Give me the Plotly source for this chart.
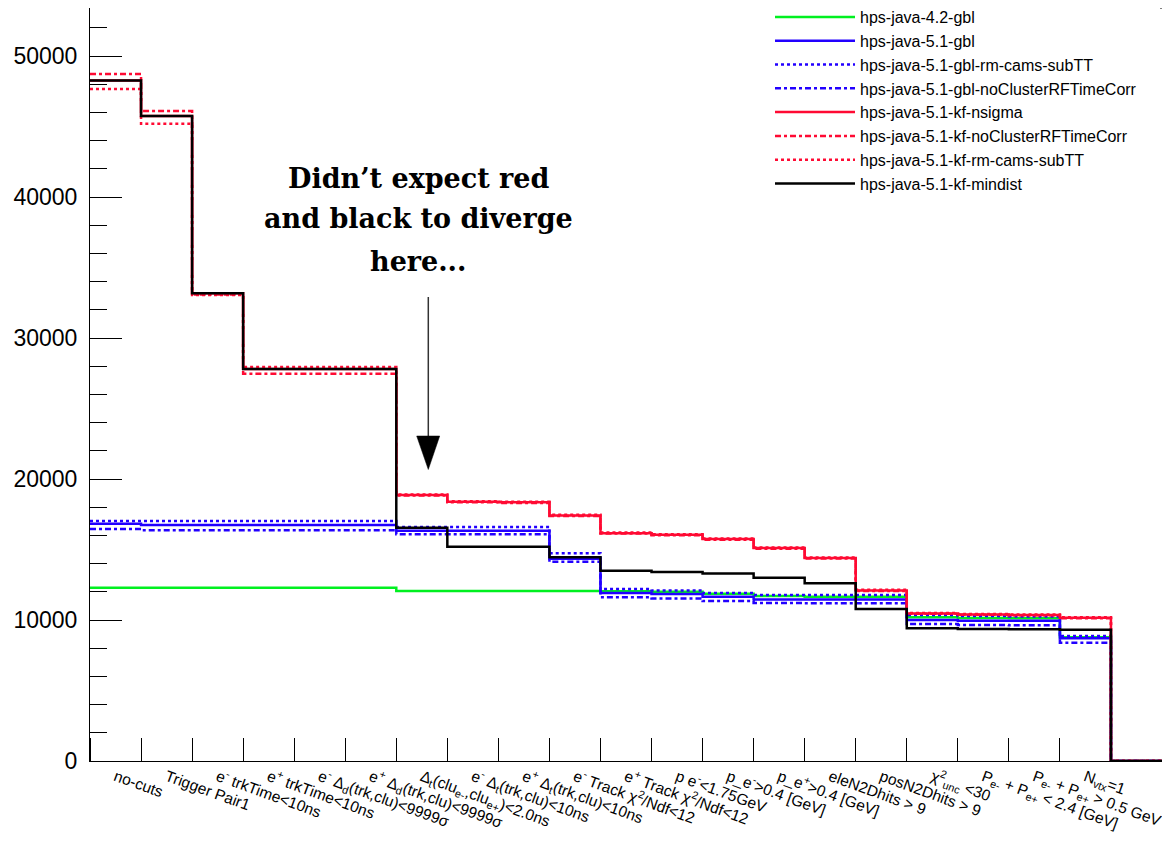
import plotly.graph_objects as go

# ---------------- data (bins 1..21) ----------------
bin_labels = [
    "no-cuts",
    "Trigger Pair1",
    "e<sup>-</sup> trkTime&lt;10ns",
    "e<sup>+</sup> trkTime&lt;10ns",
    "e<sup>-</sup> Δ<sub>d</sub>(trk,clu)&lt;9999σ",
    "e<sup>+</sup> Δ<sub>d</sub>(trk,clu)&lt;9999σ",
    "Δ<sub>t</sub>(clu<sub>e-</sub>,clu<sub>e+</sub>)&lt;2.0ns",
    "e<sup>-</sup> Δ<sub>t</sub>(trk,clu)&lt;10ns",
    "e<sup>+</sup> Δ<sub>t</sub>(trk,clu)&lt;10ns",
    "e<sup>-</sup> Track χ<sup>2</sup>/Ndf&lt;12",
    "e<sup>+</sup> Track χ<sup>2</sup>/Ndf&lt;12",
    "p e<sup>-</sup>&lt;1.75GeV",
    "p_e<sup>-</sup>&gt;0.4 [GeV]",
    "p_e<sup>+</sup>&gt;0.4 [GeV]",
    "eleN2Dhits &gt; 9",
    "posN2Dhits &gt; 9",
    "χ<sup>2</sup><sub>unc</sub> &lt;30",
    "P<sub>e-</sub> + P<sub>e+</sub> &lt; 2.4 [GeV]",
    "P<sub>e-</sub> + P<sub>e+</sub> &gt; 0.5 GeV",
    "N<sub>vtx</sub>=1",
    "",
]

java42_gbl = [12290, 12290, 12290, 12290, 12290, 12290, 12050, 12050, 12050, 12050,
              12040, 12000, 11865, 11700, 11650, 11650, 10190, 10150, 10120, 8780, 0]
java51_gbl = [16830, 16740, 16740, 16740, 16740, 16740, 16330, 16330, 16330, 14350,
              11920, 11845, 11650, 11450, 11460, 11460, 10000, 9950, 9950, 8700, 0]
java51_gbl_rmcams = [17020, 17020, 17020, 17020, 17020, 17020, 16600, 16600, 16600, 14730,
                     12200, 12100, 11915, 11770, 11770, 11770, 10355, 10280, 10250, 8865, 0]
java51_gbl_norf = [16450, 16360, 16360, 16360, 16360, 16360, 16075, 16075, 16075, 14135,
                   11620, 11520, 11350, 11200, 11185, 11185, 9715, 9645, 9620, 8390, 0]
java51_kf_nsigma = [48275, 45743, 33170, 27800, 27800, 27800, 18865, 18390, 18345, 17420,
                    16160, 16040, 15740, 15100, 14400, 12100, 10470, 10400, 10360, 10165, 0]
java51_kf_norf = [48720, 46100, 33090, 27470, 27470, 27470, 18830, 18350, 18300, 17380,
                  16130, 16010, 15700, 15060, 14360, 12060, 10440, 10370, 10330, 10130, 0]
java51_kf_rmcams = [47660, 45200, 33050, 27950, 27950, 27950, 18900, 18420, 18380, 17460,
                    16200, 16080, 15780, 15140, 14440, 12140, 10500, 10430, 10390, 10200, 0]
java51_kf_mindist = [48275, 45743, 33170, 27800, 27800, 27800, 16550, 15200, 15200, 14445,
                     13500, 13405, 13300, 13000, 12600, 10780, 9420, 9360, 9340, 9310, 0]

series = [
    ("hps-java-4.2-gbl", java42_gbl, "#00f020", "solid"),
    ("hps-java-5.1-gbl", java51_gbl, "#2200ff", "solid"),
    ("hps-java-5.1-gbl-rm-cams-subTT", java51_gbl_rmcams, "#2200ff", "dot"),
    ("hps-java-5.1-gbl-noClusterRFTimeCorr", java51_gbl_norf, "#2200ff", "6px,3px,3px,3px"),
    ("hps-java-5.1-kf-nsigma", java51_kf_nsigma, "#ff0a33", "solid"),
    ("hps-java-5.1-kf-noClusterRFTimeCorr", java51_kf_norf, "#ff0a33", "6px,3px,3px,3px"),
    ("hps-java-5.1-kf-rm-cams-subTT", java51_kf_rmcams, "#ff0a33", "dot"),
    ("hps-java-5.1-kf-mindist", java51_kf_mindist, "#000000", "solid"),
]

nbins = len(bin_labels)
edges = list(range(nbins + 1))
centers = [i + 0.5 for i in range(nbins)]

LAB_FONT = "Liberation Sans, Arial, sans-serif"

fig = go.Figure()
for name, vals, color, dash in series:
    fig.add_trace(go.Scatter(
        x=edges, y=list(vals) + [vals[-1]], mode="lines", name=name,
        line=dict(shape="hv", color=color, width=2.5, dash=dash),
    ))

# The page body has an 8px margin; the plot area on screen spans x 90..1162, y 8..761.
def px(xp):
    return (xp - 90) / 1072.0

def py(yp):
    return (761 - yp) / 753.0

fig.update_layout(
    width=1162, height=833,
    margin=dict(l=82, r=8, t=0, b=80, autoexpand=False),
    paper_bgcolor="white", plot_bgcolor="white",
    showlegend=True,
    legend=dict(
        x=px(770), y=py(0), xanchor="left", yanchor="top",
        bgcolor="rgba(0,0,0,0)", borderwidth=0,
        font=dict(family=LAB_FONT, size=16, color="black"),
        itemwidth=80, tracegroupgap=0,
    ),
    xaxis=dict(
        range=[0, nbins], tickmode="array", tickvals=centers, ticktext=bin_labels,
        tickangle=20, ticks="", showline=True, linecolor="black", linewidth=1,
        mirror=True, showgrid=False, zeroline=False, automargin=False,
        tickfont=dict(family=LAB_FONT, size=15.5, color="black"),
        minor=dict(tick0=0, dtick=1, ticks="inside", ticklen=23,
                   tickcolor="black", tickwidth=1, showgrid=False),
    ),
    yaxis=dict(
        range=[0, 53410], tickmode="array", tickvals=[0, 10000, 20000, 30000, 40000, 50000],
        ticktext=["0", "10000", "20000", "30000", "40000", "50000"],
        ticks="inside", ticklen=32, tickcolor="black", tickwidth=1,
        showline=True, linecolor="black", linewidth=1, mirror=True,
        showgrid=False, zeroline=False, ticklabelstandoff=7, automargin=False,
        tickfont=dict(family=LAB_FONT, size=23, color="black"),
        minor=dict(tick0=0, dtick=2000, ticks="inside", ticklen=17,
                   tickcolor="black", tickwidth=1, showgrid=False),
    ),
)

# legend box: white fill covering frame, with top/right edge
fig.add_shape(type="rect", xref="paper", yref="paper",
              x0=px(772), x1=px(1167), y0=py(196), y1=py(8.5),
              fillcolor="white", line=dict(width=0), layer="above")
fig.add_shape(type="path", xref="paper", yref="paper",
              path=f"M{px(1160)},{py(8)} L{px(1167)},{py(8)} L{px(1167)},{py(196)}",
              line=dict(color="black", width=1), layer="above")

# annotation text
note_font = dict(family="DejaVu Serif, Liberation Serif, serif", size=27, color="black")
for text, ypix in [("<b>Didn’t expect red</b>", 178),
                   ("<b>and black to diverge</b>", 219),
                   ("<b>here...</b>", 261)]:
    fig.add_annotation(x=px(418), y=py(ypix), xref="paper", yref="paper",
                       text=text, showarrow=False, font=note_font,
                       xanchor="center", yanchor="middle")

# arrow
fig.add_shape(type="line", xref="paper", yref="paper",
              x0=px(428.3), x1=px(428.3), y0=py(297), y1=py(440),
              line=dict(color="#333333", width=1.5), layer="above")
fig.add_shape(type="path", xref="paper", yref="paper",
              path=f"M{px(416.7)},{py(436)} L{px(439.7)},{py(436)} L{px(428.3)},{py(469.5)} Z",
              fillcolor="black", line=dict(color="black", width=0.5), layer="above")

fig.write_html("out.html")
